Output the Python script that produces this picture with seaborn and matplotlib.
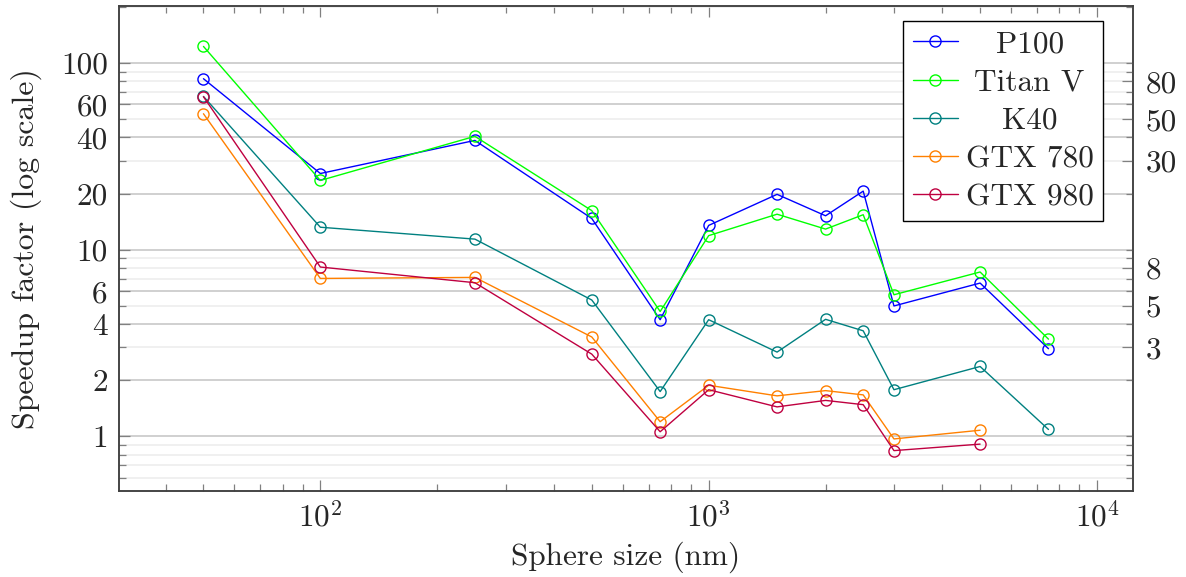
import numpy as np
import pandas as pd
import matplotlib
matplotlib.use("Agg")
import matplotlib.pyplot as plt
import seaborn as sns

# Sphere sizes (nm) and speedup factors per GPU
sizes = [50, 100, 250, 500, 750, 1000, 1500, 2000, 2500, 3000, 5000, 7500]
p100 = [82.4, 25.6, 38.5, 14.7, 4.22, 13.5, 19.8, 15.2, 20.6, 5.0, 6.63, 2.95]
titan_v = [122.7, 23.5, 40.5, 16.2, 4.67, 11.9, 15.5, 12.9, 15.4, 5.74, 7.6, 3.32]
k40 = [66.2, 13.2, 11.4, 5.38, 1.74, 4.22, 2.83, 4.24, 3.68, 1.78, 2.37, 1.09]
gtx780 = [53.5, 7.02, 7.11, 3.41, 1.20, 1.88, 1.65, 1.76, 1.67, 0.97, 1.08]
gtx980 = [66.0, 8.08, 6.66, 2.76, 1.06, 1.78, 1.44, 1.56, 1.48, 0.84, 0.91]

series_names = ["P100", "Titan V", "K40", "GTX 780", "GTX 980"]
series_values = [p100, titan_v, k40, gtx780, gtx980]
series_colors = ["#0000ff", "#00ff00", "#008080", "#ff8000", "#bf0040"]

left_ticks = [1, 2, 4, 6, 10, 20, 40, 60, 100]
right_ticks = [3, 5, 8, 30, 50, 80]
x_ticks = [100, 1000, 10000]
x_tick_labels = [r"$10^{2}$", r"$10^{3}$", r"$10^{4}$"]

rows = []
for name, vals in zip(series_names, series_values):
    for s, v in zip(sizes, vals):
        rows.append({"size": s, "speedup": v, "gpu": name})
df = pd.DataFrame(rows)

FS = 22.5

sns.set_style("ticks")
plt.rcParams.update({
    "font.family": "serif",
    "font.serif": ["cmr10"],
    "mathtext.fontset": "cm",
    "axes.formatter.use_mathtext": True,
    "font.size": FS,
})

fig = plt.figure(figsize=(11.86, 5.77), dpi=100)
ax = fig.add_axes([0.1003, 0.149, 0.8550, 0.8406])

sns.lineplot(
    data=df, x="size", y="speedup", hue="gpu", hue_order=series_names,
    palette=series_colors, marker="o", markersize=8, markerfacecolor="none",
    markeredgewidth=1.0, linewidth=1.0, legend=False, ax=ax, zorder=3,
)
for line, c in zip(ax.get_lines(), series_colors):
    line.set_markeredgecolor(c)

ax.set_xscale("log")
ax.set_yscale("log")

# axis limits: data range in log space, enlarged by 10% on each side
lx = np.log10([min(sizes), max(sizes)])
all_y = np.concatenate([np.asarray(v, float) for v in series_values])
ly = np.log10([all_y.min(), all_y.max()])
xlim = (10 ** (lx[0] - 0.1 * (lx[1] - lx[0])), 10 ** (lx[1] + 0.1 * (lx[1] - lx[0])))
ylim = (10 ** (ly[0] - 0.1 * (ly[1] - ly[0])), 10 ** (ly[1] + 0.1 * (ly[1] - ly[0])))

# y ticks and grid
minor_y = [m * 10.0 ** e for e in (-1, 0, 1, 2) for m in range(1, 10)]
minor_y = [v for v in minor_y if v not in left_ticks]
ax.set_yticks(left_ticks)
ax.set_yticklabels([str(t) for t in left_ticks])
ax.set_yticks(minor_y, minor=True)
ax.yaxis.set_minor_formatter(matplotlib.ticker.NullFormatter())
ax.grid(False)
ax.yaxis.grid(True, which="major", color="#c4c4c4", linewidth=1.1)
ax.yaxis.grid(True, which="minor", color="#ececec", linewidth=1.1)
ax.set_axisbelow(True)

# x ticks
ax.set_xticks(x_ticks)
ax.set_xticklabels(x_tick_labels)
ax.xaxis.set_minor_locator(matplotlib.ticker.LogLocator(base=10, subs=np.arange(2, 10)))
ax.xaxis.set_minor_formatter(matplotlib.ticker.NullFormatter())
ax.tick_params(axis="x", which="both", direction="in", top=True, bottom=True, color="#808080")
ax.tick_params(axis="x", which="major", length=8, width=0.9, pad=8, labelsize=FS)
ax.tick_params(axis="x", which="minor", length=5, width=0.9)
ax.tick_params(axis="y", which="both", direction="in", left=True, right=False, color="#808080")
ax.tick_params(axis="y", which="major", length=8, width=0.9, pad=8, labelsize=FS)
ax.tick_params(axis="y", which="minor", length=5, width=0.9)
ax.set_xlim(*xlim)
ax.set_ylim(*ylim)

# right-hand axis with the remaining labelled values
ax2 = ax.twinx()
ax2.set_yscale("log")
ax2.set_yticks(right_ticks)
ax2.set_yticklabels([str(t) for t in right_ticks])
ax2.set_yticks([v for v in minor_y + left_ticks if v not in right_ticks], minor=True)
ax2.yaxis.set_minor_formatter(matplotlib.ticker.NullFormatter())
ax2.tick_params(axis="y", which="both", direction="in", color="#808080")
ax2.tick_params(axis="y", which="major", length=8, width=0.9, pad=9, labelsize=FS)
ax2.tick_params(axis="y", which="minor", length=5, width=0.9)
ax2.grid(False)
ax2.set_ylim(*ylim)

for a in (ax, ax2):
    for sp in a.spines.values():
        sp.set_color("#404040")
        sp.set_linewidth(1.1)
        sp.set_visible(True)

ax.set_xlabel("Sphere size (nm)", fontsize=FS, labelpad=6)
ax.set_ylabel("Speedup factor (log scale)", fontsize=23, labelpad=14)

leg = ax2.legend(
    handles=ax.get_lines()[:len(series_names)], labels=series_names,
    loc="upper right", bbox_to_anchor=(0.9704, 0.969), borderaxespad=0,
    fontsize=FS, frameon=True, fancybox=False, framealpha=1,
    edgecolor="black", handlelength=1.45, handletextpad=0.25,
    labelspacing=0.33, borderpad=0.3,
)
leg.get_frame().set_linewidth(1.0)

# centre each legend label within its column
fig.canvas.draw()
renderer = fig.canvas.get_renderer()
texts = leg.get_texts()
widths = [t.get_window_extent(renderer).width for t in texts]
wmax = max(widths)
for t, w in zip(texts, widths):
    t.set_x((wmax - w) / 2)

fig.savefig("out.png", dpi=100)
